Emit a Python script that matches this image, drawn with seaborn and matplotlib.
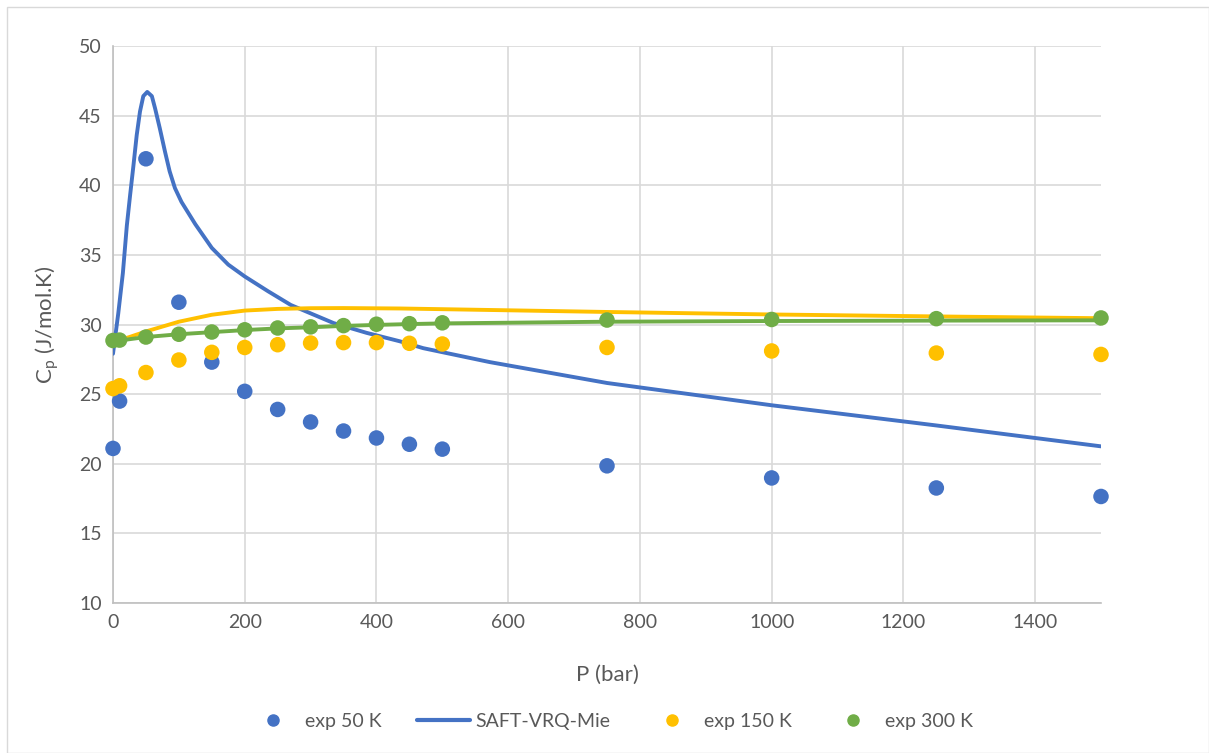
import numpy as np
import pandas as pd
import matplotlib
matplotlib.use("Agg")
import matplotlib.pyplot as plt
import seaborn as sns
from matplotlib.lines import Line2D

# ---- data ----
pressure = [0, 10, 50, 100, 150, 200, 250, 300, 350, 400, 450, 500, 750, 1000, 1250, 1500]
exp_50 = [21.1, 24.5, 41.9, 31.6, 27.3, 25.2, 23.9, 23.0, 22.35, 21.85, 21.4, 21.05, 19.85, 18.98, 18.26, 17.65]
exp_150 = [25.4, 25.6, 26.55, 27.45, 28.0, 28.35, 28.55, 28.67, 28.7, 28.7, 28.65, 28.6, 28.35, 28.1, 27.95, 27.85]
exp_300 = [28.85, 28.88, 29.1, 29.3, 29.46, 29.62, 29.75, 29.83, 29.92, 30.02, 30.06, 30.12, 30.32, 30.36, 30.42, 30.47]

saft50_p = [0, 8, 15, 21, 26, 31, 36, 41, 46, 52, 59, 64, 71, 79, 86, 94, 104, 125, 150, 175,
            200, 235, 270, 300, 335, 385, 435, 471, 572, 750, 1000, 1250, 1500]
saft50_cp = [27.9, 30.8, 33.7, 37.1, 39.3, 41.4, 43.6, 45.3, 46.4, 46.7, 46.4, 45.5, 44.1, 42.4, 41.0, 39.8, 38.8, 37.2, 35.5, 34.3,
             33.45, 32.4, 31.4, 30.8, 30.1, 29.4, 28.8, 28.3, 27.3, 25.8, 24.2, 22.75, 21.25]

saft150_p = [0, 25, 50, 75, 100, 150, 200, 250, 300, 350, 436, 500, 750, 1000, 1250, 1500]
saft150_cp = [28.75, 29.1, 29.5, 29.85, 30.2, 30.7, 31.0, 31.12, 31.17, 31.18, 31.15, 31.1, 30.9, 30.72, 30.58, 30.45]

saft300_p = [0, 10, 50, 100, 150, 200, 250, 300, 350, 400, 450, 500, 750, 1000, 1250, 1500]
saft300_cp = [28.8, 28.85, 29.1, 29.3, 29.45, 29.6, 29.72, 29.8, 29.9, 29.97, 30.03, 30.08, 30.2, 30.25, 30.28, 30.3]

x_ticks = [0, 200, 400, 600, 800, 1000, 1200, 1400]
y_ticks = [10, 15, 20, 25, 30, 35, 40, 45, 50]

BLUE = "#4472C4"
YELLOW = "#FFC000"
GREEN = "#70AD47"
TXT = "#595959"
GRID = "#D9D9D9"

sns.set_theme(style="white")
plt.rcParams['font.family'] = ['Lato', 'DejaVu Sans']

fig = plt.figure(figsize=(12.09, 7.53), dpi=100)
ax = fig.add_axes([113/1209, 1 - 603/753, (1101-113)/1209, (603-46)/753])

df_exp = pd.DataFrame({"P": pressure, "e50": exp_50, "e150": exp_150, "e300": exp_300})

LW = 2.8
S = 125
sns.scatterplot(data=df_exp, x="P", y="e50", ax=ax, color=BLUE, s=S, edgecolor="none", zorder=3, clip_on=False)
ax.plot(saft50_p, saft50_cp, color=BLUE, linewidth=LW, zorder=4, solid_joinstyle="round", solid_capstyle="round")
sns.scatterplot(data=df_exp, x="P", y="e150", ax=ax, color=YELLOW, s=S, edgecolor="none", zorder=5, clip_on=False)
sns.scatterplot(data=df_exp, x="P", y="e300", ax=ax, color=GREEN, s=S, edgecolor="none", zorder=7, clip_on=False)
ax.plot(saft150_p, saft150_cp, color=YELLOW, linewidth=LW, zorder=6, solid_joinstyle="round")
ax.plot(saft300_p, saft300_cp, color=GREEN, linewidth=LW, zorder=8, solid_joinstyle="round")

ax.set_xlim(0, 1500)
ax.set_ylim(10, 50)
ax.set_xticks(x_ticks)
ax.set_yticks(y_ticks)
ax.grid(True, color=GRID, linewidth=1.2)
ax.set_axisbelow(True)
for s in ["top", "right"]:
    ax.spines[s].set_visible(False)
ax.spines["left"].set_color("#BFBFBF")
ax.spines["bottom"].set_color("#BFBFBF")
ax.spines["left"].set_linewidth(1.2)
ax.spines["bottom"].set_linewidth(1.2)
ax.tick_params(axis="both", colors=TXT, labelsize=14, length=0, pad=8)

ax.set_xlabel("P (bar)", fontsize=16, color=TXT, labelpad=24)
ax.set_ylabel("C$_\\mathregular{p}$ (J/mol.K)", fontsize=16, color=TXT, labelpad=13)

handles = [
    Line2D([], [], marker="o", color=BLUE, linestyle="none", markersize=8),
    Line2D([], [], color=BLUE, linewidth=3),
    Line2D([], [], marker="o", color=YELLOW, linestyle="none", markersize=8),
    Line2D([], [], marker="o", color=GREEN, linestyle="none", markersize=8),
]
labels = ["exp 50 K", "SAFT-VRQ-Mie", "exp 150 K", "exp 300 K"]
leg = fig.legend(handles, labels, loc="center", bbox_to_anchor=(610/1209, 1 - 721/753), ncol=4,
                 frameon=False, fontsize=14, handlelength=2.7, columnspacing=1.8, handletextpad=0.3)
for t in leg.get_texts():
    t.set_color(TXT)

# outer border
fig.patches.append(plt.Rectangle((7/1209, 0), 1 - 7/1209 - 0.5/1209, 1 - 7/753, transform=fig.transFigure,
                                 fill=False, edgecolor="#D9D9D9", linewidth=1))

fig.savefig("out.png", dpi=100, facecolor="white")
